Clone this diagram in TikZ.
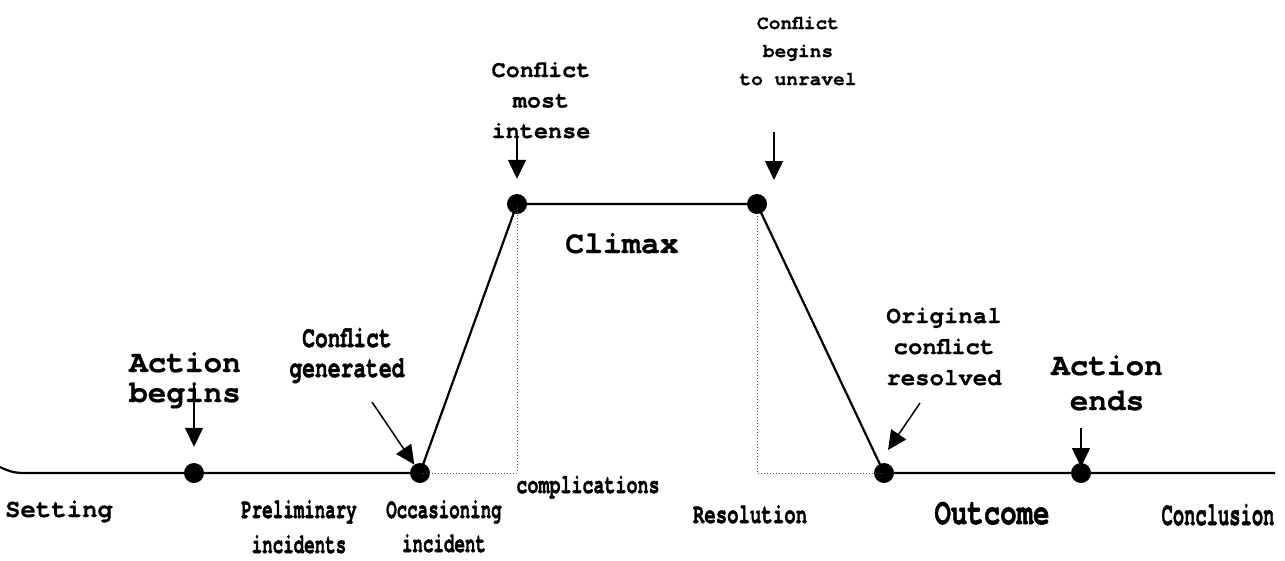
\documentclass[tikz,border=0pt]{standalone}
\usepackage{fontspec}
\usepackage{graphicx}
\newfontfamily\cur{TeX Gyre Cursor}[BoldFeatures={FakeBold=0.6}]
\newfontfamily\curc{TeX Gyre Cursor}[BoldFeatures={FakeBold=1.8}]
\usetikzlibrary{arrows.meta}
\newcommand\cnd[2]{\scalebox{#1}[1]{#2}}
\newcommand\fsz[2]{\fontsize{#1}{#2}\selectfont}
\begin{document}
\begin{tikzpicture}[x=1pt,y=-1pt,
  dot/.style={circle,fill=black,inner sep=0pt,minimum size=20pt},
  mainline/.style={line width=2.2pt,line join=round},
  guide/.style={dotted,line width=1pt,black!65},
  arr/.style={line width=1.5pt,-{Triangle[width=18pt,length=19pt]}},
  lbl/.style={inner sep=0pt,anchor=base,align=center},
]
\fill[white] (0,0) rectangle (1285,560);
\useasboundingbox (0,0) rectangle (1285,560);

% dots
\node[dot] (d1) at (194,473) {};
\node[dot] (d2) at (420,473) {};
\node[dot] (d3) at (517,204) {};
\node[dot] (d4) at (757,204) {};
\node[dot] (d5) at (884,473) {};
\node[dot] (d6) at (1081,473) {};

% helper coordinates
\coordinate (s0) at (0,467);
\coordinate (s1) at (24,473);
\coordinate (e0) at (1275,473);
\coordinate (c1) at (517,473);
\coordinate (c2) at (757,473);

% dotted guides
\draw[guide] (d2.center) -- (c1) -- (d3.center);
\draw[guide] (d4.center) -- (c2) -- (d5.center);

% main line
\draw[mainline] (s0) .. controls (8,471) and (14,473) .. (s1) -- (d1.center) -- (d2.center) -- (d3.center) -- (d4.center) -- (d5.center) -- (d6.center) -- (e0);

% arrows
\coordinate (a1) at (194,385);
\coordinate (a2) at (372,402);
\coordinate (a3) at (517,135);
\coordinate (a4) at (774,132);
\coordinate (a4e) at (774,180);
\coordinate (a5) at (920,403);
\coordinate (a5e) at (888,450);
\coordinate (a6) at (1081,428);
\draw[arr,shorten >=16pt] (a1) -- (d1);
\draw[arr] (a2) -- (d2);
\draw[arr,shorten >=15pt] (a3) -- (d3);
\draw[arr] (a4) -- (a4e);
\draw[arr] (a5) -- (a5e);
\draw[arr,shorten >=6pt] (a6) -- (d6.center);

% upper labels (anchor = baseline of last line)
\node[lbl,font=\cur\bfseries\fsz{31}{30}] (tab) at (185,402) {Action\\begins};
\node[lbl,font=\curc\bfseries\fsz{30}{30}] (tcg) at (347,377) {\cnd{0.71}{Conflict}\\\cnd{0.71}{generated}};
\node[lbl,font=\cur\bfseries\fsz{23.5}{30.5}] (tmi) at (541,138) {Conflict\\most\\intense};
\node[lbl,font=\cur\bfseries\fsz{19.5}{28}] (tun) at (798,85) {Conflict\\begins\\to unravel};
\node[lbl,font=\cur\bfseries\fsz{24}{31}] (tor) at (944,385) {Original\\conflict\\resolved};
\node[lbl,font=\cur\bfseries\fsz{31}{35}] (tae) at (1107,410) {Action\\ends};
\node[lbl,font=\cur\bfseries\fsz{31.5}{36}] (tcl) at (622,253) {Climax};

% lower labels
\node[lbl,font=\cur\bfseries\fsz{25.7}{30}] (tse) at (59,517) {Setting};
\node[lbl,font=\curc\bfseries\fsz{28}{35}] (tpi) at (299,553) {\cnd{0.625}{Preliminary}\\\cnd{0.625}{incidents}};
\node[lbl,font=\curc\bfseries\fsz{28}{34}] (toi) at (444,552) {\cnd{0.625}{Occasioning}\\\cnd{0.625}{incident}};
\node[lbl,font=\curc\bfseries\fsz{27}{30}] (tco) at (588,493) {\cnd{0.68}{complications}};
\node[lbl,font=\curc\bfseries\fsz{28}{30}] (tre) at (750,523) {\cnd{0.68}{Resolution}};
\node[lbl,font=\curc\bfseries\fsz{37}{40}] (tou) at (992,524) {\cnd{0.74}{Outcome}};
\node[lbl,font=\curc\bfseries\fsz{33}{36}] (tcn) at (1218,525) {\cnd{0.57}{Conclusion}};
\end{tikzpicture}
\end{document}
